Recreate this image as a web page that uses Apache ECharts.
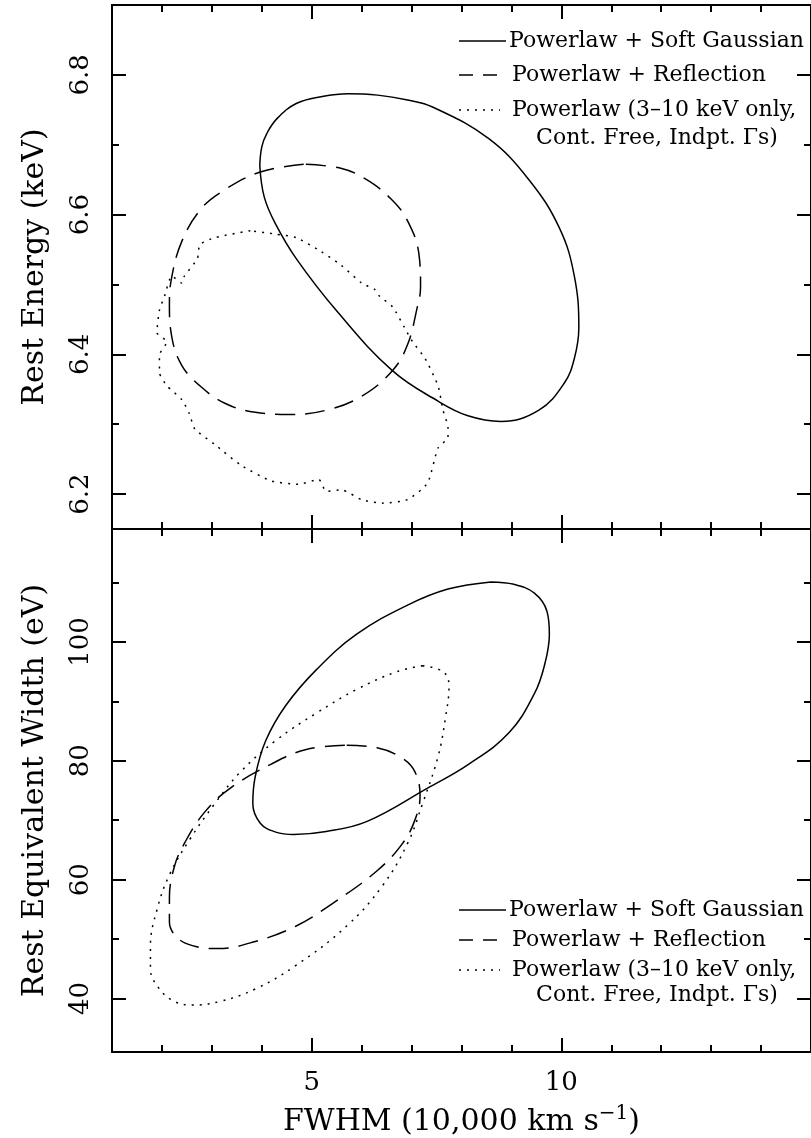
<!DOCTYPE html>
<html>
<head>
<meta charset="utf-8">
<title>FWHM vs Rest Energy / EW contours</title>
<script src="https://cdn.jsdelivr.net/npm/echarts@6/dist/echarts.min.js"></script>
<style>
html, body { margin: 0; padding: 0; background: #fff; }
#chart { width: 811px; height: 1138px; }
</style>
</head>
<body>
<div id="chart"></div>
<script>
var FONT = '"DejaVu Serif", serif';

// x 轴 (FWHM)
var xRange = [1, 15];
var xMajorTicks = [5, 10, 15];
var xMinorTicks = [2, 3, 4, 6, 7, 8, 9, 11, 12, 13, 14];
var xTickLabels = [5, 10];

// 上图 y 轴 (Rest Energy)
var energyRange = [6.15, 6.9];
var energyMajor = [6.2, 6.4, 6.6, 6.8];
var energyMinor = [6.3, 6.5, 6.7];

// 下图 y 轴 (Equivalent Width)
var ewRange = [31, 119];
var ewMajor = [40, 60, 80, 100];
var ewMinor = [50, 70, 90, 110];

var seriesNames = [
    'Powerlaw + Soft Gaussian',
    'Powerlaw + Reflection',
    'Powerlaw (3\u201310 keV only, Cont. Free, Indpt. \u0393s)'
];

// 上图: FWHM - Rest Energy
var energySoftGauss = [
    [3.96, 6.670], [4.00, 6.697], [4.10, 6.716], [4.30, 6.737], [4.69, 6.759], [5.21, 6.769],
    [5.73, 6.773], [6.32, 6.771], [6.92, 6.764], [7.42, 6.754], [8.54, 6.709],
    [9.35, 6.650], [9.96, 6.581], [10.26, 6.512], [10.35, 6.438], [10.26, 6.394],
    [10.06, 6.359], [9.55, 6.320], [8.79, 6.304], [8.13, 6.312], [7.53, 6.333], [6.61, 6.377],
    [5.49, 6.463], [4.69, 6.537], [4.28, 6.586], [4.05, 6.625], [3.96, 6.670]
];
var energyReflection = [
    [4.84, 6.672], [3.97, 6.661], [3.18, 6.632], [2.76, 6.606], [2.40, 6.562], [2.20, 6.512],
    [2.15, 6.473], [2.20, 6.424], [2.40, 6.384], [2.76, 6.355], [3.26, 6.330], [3.87, 6.317],
    [4.59, 6.314], [5.29, 6.320], [6.00, 6.340], [6.62, 6.377], [6.92, 6.414], [7.10, 6.463],
    [7.18, 6.497], [7.15, 6.542], [6.92, 6.591], [6.58, 6.623], [6.10, 6.650], [5.60, 6.666],
    [4.84, 6.672]
];
var energyPowerlaw = [
    [3.77, 6.577], [3.06, 6.567], [2.76, 6.557], [2.71, 6.537], [2.45, 6.512], [2.40, 6.502],
    [2.20, 6.512], [2.05, 6.483], [1.95, 6.463], [1.90, 6.431], [2.10, 6.418], [1.95, 6.399],
    [1.95, 6.374], [2.10, 6.355], [2.40, 6.335], [2.55, 6.315], [2.66, 6.293], [3.06, 6.271],
    [3.57, 6.242], [4.18, 6.219], [4.73, 6.214], [5.14, 6.221], [5.29, 6.204], [5.60, 6.206],
    [6.00, 6.192], [6.41, 6.187], [6.92, 6.192], [7.32, 6.216], [7.53, 6.266], [7.73, 6.281],
    [7.73, 6.295], [7.63, 6.320], [7.53, 6.355], [7.27, 6.394], [7.02, 6.418], [6.86, 6.438],
    [6.62, 6.468], [6.36, 6.483], [6.26, 6.493], [6.00, 6.502], [5.60, 6.527], [5.19, 6.547],
    [4.69, 6.567], [4.28, 6.572], [3.77, 6.577]
];

// 下图: FWHM - Rest Equivalent Width
var ewSoftGauss = [
    [8.59, 110.1], [9.05, 109.7], [9.46, 108.2], [9.71, 105.2], [9.76, 101.3], [9.66, 96.0],
    [9.46, 91.3], [8.95, 84.7], [8.14, 79.4], [7.32, 75.4], [6.11, 69.8], [5.29, 68.1],
    [4.64, 67.6], [4.28, 68.0], [3.97, 69.5], [3.82, 72.8], [3.87, 77.4], [4.08, 83.4],
    [4.48, 89.3], [5.09, 95.3], [5.90, 101.3], [6.92, 106.2], [7.73, 108.9], [8.59, 110.1]
];
var ewReflection = [
    [5.70, 82.6], [6.31, 82.2], [6.82, 80.4], [7.07, 78.1], [7.17, 74.1], [7.07, 70.1],
    [6.82, 66.1], [6.31, 61.5], [5.40, 55.9], [4.69, 52.2], [3.87, 49.6], [3.11, 48.4],
    [2.61, 48.9], [2.30, 50.3], [2.15, 52.9], [2.15, 56.9], [2.25, 62.2], [2.45, 66.1],
    [2.86, 71.4], [3.37, 75.4], [4.18, 79.4], [4.89, 81.9], [5.70, 82.6]
];
var ewPowerlaw = [
    [7.22, 96.0], [7.63, 95.0], [7.75, 92.6], [7.68, 87.3], [7.53, 80.7], [7.22, 72.8],
    [6.92, 66.1], [6.41, 58.9], [5.70, 52.2], [4.69, 45.6], [3.87, 41.6], [3.16, 39.5],
    [2.61, 38.9], [2.25, 39.5], [1.95, 41.6], [1.77, 45.0], [1.77, 48.9], [1.90, 54.9],
    [2.15, 60.8], [2.56, 66.8], [3.06, 72.8], [3.57, 78.1], [4.28, 83.4], [5.09, 88.0],
    [5.90, 92.0], [6.71, 95.0], [7.22, 96.0]
];

var chart = echarts.init(document.getElementById('chart'));

//坐标轴: 每边一条短刻度轴 + 一条长刻度轴
function makeAxis(o) {
    var axis = {
        type: 'value',
        gridIndex: o.grid,
        position: o.pos,
        min: o.range[0],
        max: o.range[1],
        axisLine: { show: !!o.line, onZero: false, lineStyle: { color: '#000', width: 2 } },
        axisTick: {
            show: true, inside: true, length: o.len, customValues: o.ticks,
            lineStyle: { color: '#000', width: 2 }
        },
        axisLabel: { show: false },
        splitLine: { show: false }
    };
    if (o.labels) {
        axis.axisLabel = {
            show: true,
            customValues: o.labels,
            color: '#000',
            fontFamily: FONT,
            fontSize: 26,
            margin: o.margin,
            rotate: o.rotate || 0
        };
    }
    if (o.name) {
        axis.name = o.name;
        axis.nameLocation = 'middle';
        axis.nameGap = o.nameGap;
        axis.nameTextStyle = o.nameStyle;
    }
    return axis;
}

var yNameStyle = { color: '#000', fontFamily: FONT, fontSize: 30 };
var xNameStyle = {
    color: '#000',
    rich: {
        a: { color: '#000', fontFamily: FONT, fontSize: 30, lineHeight: 36 },
        b: { color: '#000', fontFamily: FONT, fontSize: 20, verticalAlign: 'top', lineHeight: 36 }
    }
};

var xAxes = [
    // 上图
    makeAxis({ grid: 0, pos: 'bottom', range: xRange, ticks: xMinorTicks, len: 7, line: true }),
    makeAxis({ grid: 0, pos: 'bottom', range: xRange, ticks: xMajorTicks, len: 14 }),
    makeAxis({ grid: 0, pos: 'top', range: xRange, ticks: xMinorTicks, len: 7, line: true }),
    makeAxis({ grid: 0, pos: 'top', range: xRange, ticks: xMajorTicks, len: 14 }),
    // 下图
    makeAxis({ grid: 1, pos: 'bottom', range: xRange, ticks: xMinorTicks, len: 7, line: true }),
    makeAxis({
        grid: 1, pos: 'bottom', range: xRange, ticks: xMajorTicks, len: 14,
        labels: xTickLabels, margin: 18,
        name: '{a|FWHM (10,000 km s}{b|\u22121}{a|)}', nameGap: 52, nameStyle: xNameStyle
    }),
    makeAxis({ grid: 1, pos: 'top', range: xRange, ticks: xMinorTicks, len: 7, line: true }),
    makeAxis({ grid: 1, pos: 'top', range: xRange, ticks: xMajorTicks, len: 14 })
];

var yAxes = [
    makeAxis({ grid: 0, pos: 'left', range: energyRange, ticks: energyMinor, len: 7, line: true }),
    makeAxis({
        grid: 0, pos: 'left', range: energyRange, ticks: energyMajor, len: 14,
        labels: energyMajor, margin: 18, rotate: 90,
        name: 'Rest Energy (keV)', nameGap: 62, nameStyle: yNameStyle
    }),
    makeAxis({ grid: 0, pos: 'right', range: energyRange, ticks: energyMinor, len: 7, line: true }),
    makeAxis({ grid: 0, pos: 'right', range: energyRange, ticks: energyMajor, len: 14 }),

    makeAxis({ grid: 1, pos: 'left', range: ewRange, ticks: ewMinor, len: 7, line: true }),
    makeAxis({
        grid: 1, pos: 'left', range: ewRange, ticks: ewMajor, len: 14,
        labels: ewMajor, margin: 18, rotate: 90,
        name: 'Rest Equivalent Width (eV)', nameGap: 62, nameStyle: yNameStyle
    }),
    makeAxis({ grid: 1, pos: 'right', range: ewRange, ticks: ewMinor, len: 7, line: true }),
    makeAxis({ grid: 1, pos: 'right', range: ewRange, ticks: ewMajor, len: 14 })
];

var lineTypes = ['solid', [20, 10], [2, 6]];

function contour(name, idx, data, style, smooth) {
    return {
        type: 'line',
        name: name,
        xAxisIndex: idx,
        yAxisIndex: idx,
        data: data,
        symbol: 'none',
        smooth: smooth,
        lineStyle: { color: '#000', width: 1.5, type: style },
        animation: false
    };
}

//图例 (手工画, 第三项两行)
function legend(ys) {
    var txt = function (x, y, s, align) {
        return {
            type: 'text', x: x, y: y, z: 100,
            style: { text: s, fill: '#000', font: '22px ' + FONT, align: align || 'left', verticalAlign: 'middle' }
        };
    };
    var ln = function (x1, x2, y, dash) {
        return {
            type: 'line', z: 100,
            shape: { x1: x1, y1: y, x2: x2, y2: y },
            style: { stroke: '#000', lineWidth: 1.5, lineDash: dash || null }
        };
    };
    return [
        ln(459, 506, ys[0]),
        txt(509, ys[0], seriesNames[0]),
        ln(459, 497, ys[1], [14, 10]),
        txt(512, ys[1], seriesNames[1]),
        ln(459, 500, ys[2], [2, 6]),
        txt(512, ys[2], 'Powerlaw (3\u201310 keV only,'),
        txt(657, ys[3], 'Cont. Free, Indpt. \u0393s)', 'center')
    ];
}

var option = {
    backgroundColor: '#fff',
    animation: false,
    grid: [
        { left: 112, right: -14, top: 5, height: 524 },
        { left: 112, right: -14, top: 529, height: 524 }
    ],
    xAxis: xAxes,
    yAxis: yAxes,
    series: [
        contour(seriesNames[0], 0, energySoftGauss, lineTypes[0], 0.4),
        contour(seriesNames[1], 0, energyReflection, lineTypes[1], 0.4),
        contour(seriesNames[2], 0, energyPowerlaw, lineTypes[2], 0.2),
        contour(seriesNames[0], 4, ewSoftGauss, lineTypes[0], 0.4),
        contour(seriesNames[1], 4, ewReflection, lineTypes[1], 0.4),
        contour(seriesNames[2], 4, ewPowerlaw, lineTypes[2], 0.4)
    ],
    graphic: legend([41, 75, 110, 138]).concat(legend([910, 940, 970, 995]))
};

chart.setOption(option);
</script>
</body>
</html>
